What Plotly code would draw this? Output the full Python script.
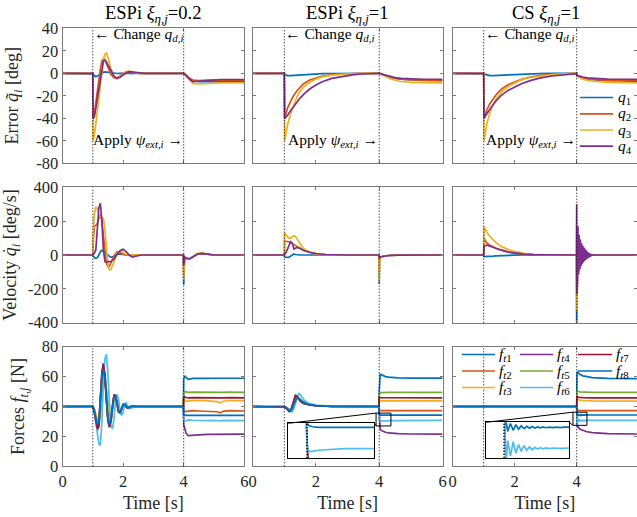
import plotly.graph_objects as go

W, H = 637, 517
FONT = "Liberation Serif"
Q_COLORS = ['#0072BD', '#D95319', '#EDB120', '#7E2F8E']
F_COLORS = ['#0072BD', '#D95319', '#EDB120', '#7E2F8E', '#77AC30', '#4DBEEE', '#A2142F', '#0072BD']

col_titles = ['ESPi <i>ξ</i><sub><i>η,j</i></sub>=0.2', 'ESPi <i>ξ</i><sub><i>η,j</i></sub>=1', 'CS <i>ξ</i><sub><i>η,j</i></sub>=1']
row_titles = ['Error <i>q̃</i><sub><i>i</i></sub> [deg]', 'Velocity <i>q̇</i><sub><i>i</i></sub> [deg/s]', 'Forces <i>f</i><sub><i>t,j</i></sub> [N]']
q_names = ['<i>q</i><sub>1</sub>', '<i>q</i><sub>2</sub>', '<i>q</i><sub>3</sub>', '<i>q</i><sub>4</sub>']
f_names = ['<i>f</i><sub><i>t</i>%d</sub>' % i for i in range(1, 9)]

x_ticks = [0, 2, 4, 6]
x_ticktext = ['0', '2', '4', '6']
err_ticks = [-80, -60, -40, -20, 0, 20, 40]
err_ticktext = ['-80', '-60', '-40', '-20', '0', '20', '40']
vel_ticks = [-400, -200, 0, 200, 400]
vel_ticktext = ['-400', '-200', '0', '200', '400']
force_ticks = [0, 20, 40, 60, 80]
force_ticktext = ['0', '20', '40', '60', '80']

# ---------------- Row 1: errors ----------------
err1_t = [0, 1.0, 1.01, 1.05, 1.1, 1.15, 1.2, 1.25, 1.3, 1.35, 1.4, 1.45, 1.5, 1.6, 1.7, 1.8, 1.9, 2.0, 2.1, 2.2, 2.35, 2.5, 2.7, 3.0, 4.0, 4.1, 4.2, 4.3, 4.5, 4.8, 5.2, 6.0]
err1_q1 = [0, 0, -0.5, -2, -3, -2.5, -1.5, -0.5, 0.5, 1, 1.2, 1, 0.8, 0.3, 0, -0.2, 0, 0, 0, 0, 0, 0, 0, 0, 0, -2.5, -5, -6.5, -7.5, -7.5, -7.2, -7.2]
err1_q2 = [0, 0, -40, -36, -26, -15, -5, 4, 11, 13, 12, 9, 5, -1, -4, -4, -2.5, 0, 1, 1, 0.5, 0, 0, 0, 0, -2, -4.5, -6, -6.5, -6, -5.8, -6]
err1_q3 = [0, 0, -60, -55, -45, -33, -20, -8, 4, 12, 17, 18, 14, 4, -3, -5, -3, -0.5, 1.5, 2, 1, 0, 0, 0, 0, -3, -6.5, -9, -9.5, -9, -8.5, -8.5]
err1_q4 = [0, 0, -40, -39, -31, -22, -12, -3, 6, 11, 11.5, 10, 7.5, 2, -2.5, -4.5, -3.5, -1.5, 0.5, 1.5, 1, 0.3, 0, 0, 0, -2.5, -5.5, -7.5, -7, -6, -5.5, -5.5]

err2_t = [0, 1.0, 1.01, 1.05, 1.1, 1.2, 1.3, 1.4, 1.5, 1.6, 1.8, 2.0, 2.2, 2.5, 2.8, 3.2, 3.6, 4.0, 4.1, 4.2, 4.35, 4.5, 4.7, 5.0, 5.4, 6.0]
err2_q1 = [0, 0, -1, -1.5, -2, -2, -1.8, -1.5, -1.2, -1, -0.7, -0.5, -0.3, -0.2, -0.1, 0, 0, 0, -1, -2, -3.5, -4.5, -5.3, -6, -6.4, -6.5]
err2_q2 = [0, 0, -40, -35, -31, -25, -19.5, -15.5, -12, -9.5, -6, -4, -2.5, -1.3, -0.6, -0.2, 0, 0, -1, -2, -3.3, -4.3, -5.2, -5.8, -6.2, -6.3]
err2_q3 = [0, 0, -60, -53, -46, -36, -28, -21, -16, -12.5, -8, -5, -3.2, -1.7, -0.9, -0.3, 0, 0, -1.5, -3, -4.8, -6.2, -7.3, -8, -8.4, -8.5]
err2_q4 = [0, 0, -40, -39, -37.5, -33, -29, -25.5, -22, -19, -14, -10.5, -7.5, -4.5, -2.8, -1.2, -0.4, 0, -1, -1.8, -3, -3.8, -4.5, -5, -5.3, -5.4]

err3_t = [0, 1.0, 1.01, 1.05, 1.1, 1.2, 1.3, 1.4, 1.5, 1.6, 1.8, 2.0, 2.2, 2.5, 2.8, 3.2, 3.6, 4.0, 4.02, 4.1, 4.2, 4.35, 4.5, 4.7, 5.0, 5.4, 6.0]
err3_q1 = [0, 0, -0.5, -1, -1.5, -2, -2, -2, -1.8, -1.7, -1.4, -1.1, -0.8, -0.5, -0.3, -0.1, 0, 0, -2, -3, -4, -5, -5.5, -6, -6.5, -6.8, -7]
err3_q2 = [0, 0, -40, -36, -32.5, -27, -22.5, -19, -16, -13.5, -10, -7.5, -5.5, -3.3, -2, -1, -0.4, 0, -2.5, -3.5, -4.2, -5, -5.4, -5.8, -6, -6.1, -6.2]
err3_q3 = [0, 0, -60, -52, -45, -35, -28, -23, -19, -16, -11.5, -8.5, -6, -3.7, -2.3, -1.1, -0.4, 0, -3, -4.2, -5.2, -6.3, -7, -7.5, -8, -8.3, -8.5]
err3_q4 = [0, 0, -40, -38, -36, -32, -28, -24.5, -21.5, -19, -15, -12, -9.5, -6.5, -4.3, -2.4, -1.2, -0.3, -2, -2.8, -3.4, -4, -4.4, -4.8, -5.1, -5.3, -5.4]

# ---------------- Row 2: velocities ----------------
vel1_t = [0, 1.0, 1.02, 1.05, 1.1, 1.15, 1.2, 1.25, 1.3, 1.35, 1.4, 1.45, 1.5, 1.55, 1.6, 1.7, 1.8, 1.9, 2.0, 2.1, 2.2, 2.3, 2.45, 2.6, 3.0, 3.99, 4.0, 4.01, 4.03, 4.1, 4.2, 4.3, 4.45, 4.6, 4.8, 5.0, 6.0]
vel1_q1 = [0, 0, -8, -15, -19, -15, 0, 20, 28, 22, 12, 5, 0, -8, -14, -8, 3, 6, 2, 0, 0, 0, 0, 0, 0, 0, -175, -60, -15, -20, -22, -10, 5, 8, 2, 0, 0]
vel1_q2 = [0, 0, 100, 170, 175, 185, 220, 240, 200, 120, 20, -50, -70, -65, -45, -5, 18, 15, 5, 0, 0, 0, 0, 0, 0, 0, -110, -40, -15, -22, -24, -12, 6, 10, 3, 0, 0]
vel1_q3 = [0, 0, 150, 240, 285, 270, 240, 225, 220, 215, 150, 20, -60, -88, -85, -40, 10, 25, 15, 3, 0, 0, 0, 0, 0, 0, -150, -50, -15, -24, -26, -12, 8, 12, 3, 0, 0]
vel1_q4 = [0, 0, 5, 10, 30, 150, 280, 305, 200, 30, -38, -40, -40, -40, -38, -25, 5, 25, 34, 20, 0, -13, -8, 0, 0, 0, -60, -25, -12, -20, -22, -12, 6, 10, 3, 0, 0]

vel2_t = [0, 1.0, 1.01, 1.05, 1.1, 1.15, 1.2, 1.25, 1.3, 1.35, 1.4, 1.5, 1.6, 1.8, 2.0, 2.3, 2.6, 3.0, 3.99, 4.0, 4.01, 4.05, 4.15, 4.3, 4.6, 5.0, 6.0]
vel2_q1 = [0, 0, -12, -14, -14, -13, -5, 3, 6, 3, 1, 0, 0, 0, 0, 0, 0, 0, 0, -170, -30, -10, -6, -3, -1, 0, 0]
vel2_q2 = [0, 0, 83, 82, 80, 77, 73, 68, 62, 55, 49, 38, 28, 15, 7, 2, 0.5, 0, 0, -100, -25, -12, -7, -3, -1, 0, 0]
vel2_q3 = [0, 0, 132, 120, 108, 99, 100, 108, 113, 110, 95, 60, 38, 18, 8, 2.5, 0.5, 0, 0, -155, -30, -12, -8, -3, -1, 0, 0]
vel2_q4 = [0, 0, 5, 15, 35, 60, 79, 70, 35, 40, 45, 38, 28, 16, 9, 3, 1, 0, 0, -20, -15, -10, -7, -3, -1, 0, 0]

vel3_t = [0, 1.0, 1.01, 1.05, 1.1, 1.2, 1.3, 1.4, 1.5, 1.6, 1.8, 2.0, 2.3, 2.6, 3.0, 3.99, 4.0, 4.01, 4.05, 4.15, 4.3, 4.6, 5.0, 6.0]
vel3_q1 = [0, 0, -10, -10, -10, -9, -7, -5.5, -4, -3, -1.5, -0.8, 0, 0, 0, 0, -430, -40, -10, -5, -2, 0, 0, 0]
vel3_q2 = [0, 0, 100, 85, 72, 58, 48, 40, 33, 27, 17, 11, 5, 2, 0.5, 0, -200, -30, -10, -5, -2, 0, 0, 0]
vel3_q3 = [0, 0, 167, 150, 135, 110, 90, 72, 59, 48, 32, 21, 10, 4, 1, 0, -330, -40, -10, -5, -2, 0, 0, 0]
vel3_q4_t = [0, 1.0, 1.01, 1.05, 1.1, 1.2, 1.3, 1.4, 1.5, 1.6, 1.8, 2.0, 2.3, 2.6, 3.0, 3.99,
             4.00, 4.01, 4.02, 4.03, 4.04, 4.05, 4.06, 4.07, 4.08, 4.09, 4.10, 4.11, 4.12, 4.13, 4.14, 4.15,
             4.16, 4.17, 4.18, 4.19, 4.20, 4.21, 4.22, 4.23, 4.24, 4.25, 4.26, 4.27, 4.28, 4.29, 4.30, 4.31,
             4.32, 4.33, 4.34, 4.35, 4.36, 4.37, 4.38, 4.39, 4.40, 4.41, 4.42, 4.43, 4.44, 4.45, 4.46, 4.47,
             4.48, 4.49, 4.50, 4.6, 5.0, 6.0]
vel3_q4 = [0, 0, 53, 55, 58, 52, 45, 38, 32, 27, 17, 11, 5, 2, 0.5, 0,
           300, -230, 210, -150, 170, -115, 140, -98, 120, -84, 105, -74, 92, -64, 80, -56,
           70, -50, 63, -44, 55, -40, 50, -35, 44, -31, 39, -27, 34, -24, 30, -21,
           26, -18, 22, -15, 18, -13, 15, -11, 12, -9, 10, -7, 8, -5, 6, -4,
           4, -3, 2, 0, 0, 0]

# ---------------- Row 3: forces ----------------
frc1_t = [0, 1.0, 1.05, 1.1, 1.15, 1.2, 1.25, 1.3, 1.35, 1.4, 1.45, 1.5, 1.55, 1.6, 1.65, 1.7, 1.75, 1.8, 1.85, 1.9, 1.95, 2.0, 2.05, 2.1, 2.15, 2.2, 2.3, 2.4, 2.5, 2.7, 3.0, 3.99, 4.0, 4.03, 4.08, 4.15, 4.3, 4.5, 4.8, 5.0, 5.1, 5.2, 5.3, 5.5, 6.0]
frc1_f1 = [40, 40, 38, 33, 27, 26, 36, 54, 64, 62, 50, 35, 28, 30, 38, 46, 47.5, 43, 38, 35.5, 37.5, 40.5, 41.8, 40.5, 39.3, 39.4, 40.3, 40, 40, 40, 40, 40, 58, 60.5, 59.5, 58.2, 58.8, 59, 58.8, 58.9, 58.9, 58.8, 58.9, 58.9, 58.9]
frc1_f2 = [40, 40, 38, 34, 30, 30, 38, 52, 60, 58, 48, 36, 30, 32, 39, 45, 46, 42.5, 38, 36.5, 38, 40.5, 41.3, 40.5, 39.5, 39.6, 40.2, 40, 40, 40, 40, 40, 37, 36.5, 36.8, 37, 37.2, 37, 37, 37, 36.5, 35.8, 36.8, 37.2, 37]
frc1_f3 = [40, 40, 38.5, 35, 31, 30, 36, 50, 59, 59, 50, 38, 31, 31, 37, 44, 46, 43, 38.5, 36.5, 37.5, 40, 41.2, 40.8, 39.7, 39.5, 40.1, 40, 40, 40, 40, 40, 44.5, 44, 43.5, 43.8, 44, 44, 43.8, 43.8, 43.3, 42.5, 43.5, 44, 43.8]
frc1_f4 = [40, 40, 36, 29, 24, 28, 45, 63, 69, 60, 43, 30, 26, 31, 41, 48, 47, 41, 36, 36, 39, 41.5, 41, 39.5, 39, 39.5, 40.3, 40, 40, 40, 40, 40, 28, 25, 22, 20.5, 20.5, 21, 21.3, 21.4, 21.3, 21.2, 21.4, 21.5, 21.5]
frc1_f5 = [40, 40, 38, 33, 28, 29, 40, 56, 63, 60, 47, 35, 29, 31, 39, 46, 47, 42, 37.5, 36, 38, 40.8, 41.5, 40.3, 39.4, 39.5, 40.2, 40, 40, 40, 40, 40, 49, 50, 49.8, 49.5, 49.6, 49.5, 49.5, 49.6, 49.5, 49.4, 49.5, 49.6, 49.5]
frc1_f6 = [40, 40, 37, 30, 21, 15, 14, 30, 55, 72, 75, 62, 42, 27, 25, 32, 43, 48, 45, 37, 34, 36, 41, 42.5, 40.5, 38.5, 39, 40.5, 40, 40, 40, 40, 31, 30, 30.5, 31, 30.8, 30.6, 30.6, 30.7, 30.5, 30.3, 30.7, 30.8, 30.6]
frc1_f7 = [40, 40, 36.5, 30, 25, 28, 44, 62, 68, 61, 45, 31, 26.5, 30.5, 40, 47.5, 47.5, 41.5, 36.5, 36, 38.5, 41.3, 41.2, 39.7, 39, 39.4, 40.3, 40, 40, 40, 40, 40, 46, 46.5, 46, 45.8, 45.9, 45.8, 45.8, 45.9, 45.8, 45.7, 45.8, 45.9, 45.8]
frc1_f8 = [40, 40, 37, 32, 28, 30, 44, 60, 65, 58, 44, 31, 28, 32, 40, 47, 46.5, 42, 37, 36, 38.5, 41, 41.5, 40, 39.3, 39.6, 40.2, 40, 40, 40, 40, 40, 34.5, 34.2, 34, 34, 34, 34, 34, 34, 34, 34, 34, 34, 34]

frc2_t = [0, 1.0, 1.05, 1.1, 1.15, 1.2, 1.25, 1.3, 1.35, 1.4, 1.45, 1.5, 1.6, 1.7, 1.8, 2.0, 2.2, 2.5, 3.0, 3.99, 4.0, 4.01, 4.03, 4.06, 4.1, 4.15, 4.2, 4.3, 4.4, 4.6, 5.0, 5.5, 6.0]
frc2_f1 = [40, 40, 39.5, 38.5, 37.5, 37, 38, 41, 44.5, 46, 45.5, 44.5, 43, 42, 41.2, 40.6, 40.3, 40.1, 40, 40, 50, 60, 61.5, 61.3, 60.8, 60.3, 60, 59.6, 59.4, 59.2, 59, 59, 59]
frc2_f2 = [40, 40, 39.5, 38.5, 37.5, 37.5, 39, 42.5, 45.5, 46, 45, 44, 42.5, 41.5, 41, 40.5, 40.2, 40.1, 40, 40, 38, 37.5, 37.3, 37.2, 37.2, 37.3, 37.4, 37.6, 37.4, 37.2, 37.2, 37.3, 37.2]
frc2_f3 = [40, 40, 39.5, 39, 38, 37.5, 38.5, 42, 45.5, 47, 46, 44.5, 43, 42, 41.3, 40.6, 40.3, 40.1, 40, 40, 44.5, 44, 43.8, 43.7, 43.7, 43.8, 43.8, 43.9, 43.8, 43.8, 43.8, 43.8, 43.8]
frc2_f4 = [40, 40, 39, 37.5, 36.5, 37, 41, 45, 47.5, 47, 45, 43.5, 42, 41.5, 41, 40.5, 40.2, 40, 40, 40, 32, 27, 25, 24, 23.5, 23, 22.8, 22.3, 22, 21.8, 21.6, 21.5, 21.5]
frc2_f5 = [40, 40, 39.5, 38.5, 37.5, 37.5, 39.5, 43, 46, 46.5, 45.5, 44, 42.5, 41.6, 41, 40.5, 40.2, 40.1, 40, 40, 48, 49, 49.2, 49.3, 49.4, 49.4, 49.5, 49.5, 49.5, 49.5, 49.5, 49.5, 49.5]
frc2_f6 = [40, 40, 39.5, 38.5, 37.5, 36.5, 36.5, 38.5, 42, 46, 48.5, 48, 45, 43, 42, 41, 40.5, 40.2, 40, 40, 31, 30, 30, 30.2, 30.3, 30.4, 30.5, 30.5, 30.6, 30.6, 30.7, 30.7, 30.7]
frc2_f7 = [40, 40, 39, 38, 37, 37.2, 40.5, 44.5, 47, 46.8, 45, 43.7, 42.2, 41.4, 41, 40.5, 40.2, 40, 40, 40, 46, 46.2, 46, 45.9, 45.9, 45.9, 45.8, 45.8, 45.8, 45.8, 45.8, 45.8, 45.8]
frc2_f8 = [40, 40, 39.5, 38.5, 37.5, 37.2, 38.5, 41.5, 44.5, 46, 45.5, 44.5, 43, 42, 41.2, 40.6, 40.3, 40.1, 40, 40, 35, 34.5, 34.3, 34.2, 34.2, 34.2, 34.2, 34.2, 34.2, 34.2, 34.2, 34.2, 34.2]

frc3_t = [0, 1.0, 3.99, 4.0, 4.01, 4.03, 4.05, 4.1, 4.2, 4.3, 4.5, 5.0, 6.0]
frc3_f1 = [40, 40, 40, 40, 62, 63.5, 62.5, 61.5, 60.5, 60, 59.3, 58.8, 58.6]
frc3_f2 = [40, 40, 40, 40, 38.5, 37.8, 37.5, 37.3, 37.2, 37.2, 37.2, 37.2, 37.2]
frc3_f3 = [40, 40, 40, 40, 45, 44.8, 44.5, 44.2, 44, 43.8, 43.7, 43.6, 43.6]
frc3_f4 = [40, 40, 40, 40, 28, 26.5, 26, 25, 24, 23.3, 22.5, 21.8, 21.6]
frc3_f5 = [40, 40, 40, 40, 50.5, 50.2, 50, 49.8, 49.6, 49.5, 49.5, 49.5, 49.5]
frc3_f7 = [40, 40, 40, 40, 46.5, 46.3, 46.2, 46, 45.9, 45.8, 45.8, 45.8, 45.8]
frc3_rip_t = [0, 1.0, 3.99, 4.0, 4.01, 4.02, 4.035, 4.05, 4.065, 4.08, 4.095, 4.11, 4.125, 4.14, 4.155, 4.17, 4.185, 4.2, 4.215, 4.23, 4.25, 4.27, 4.29, 4.31, 4.33, 4.35, 4.4, 4.5, 5.0, 6.0]
frc3_f6 = [40, 40, 40, 40, 27.5, 32, 29.3, 31.8, 29.8, 31.3, 30.1, 31.1, 30.3, 30.9, 30.4, 30.8, 30.5, 30.75, 30.55, 30.7, 30.6, 30.7, 30.62, 30.7, 30.65, 30.68, 30.7, 30.7, 30.7, 30.7]
frc3_f8 = [40, 40, 40, 40, 35.5, 33.6, 35, 33.8, 34.8, 34, 34.6, 34.1, 34.5, 34.15, 34.45, 34.2, 34.4, 34.22, 34.38, 34.25, 34.37, 34.26, 34.35, 34.27, 34.34, 34.3, 34.3, 34.3, 34.3, 34.3]

event_times = [1.0, 4.0]

# ---------------- layout geometry (pixels) ----------------
COL_PX = [(62.5, 244.3), (252.7, 442.5), (452.7, 637.0)]
ROW_PX = [(28.3, 163.3), (187.3, 322.7), (346.7, 466.3)]
X_RANGES = [[0, 6], [0, 6], [0, 5.945]]
INSET_PX = {10: ((288.3, 374.3), (423.3, 458.3)), 11: ((486.0, 569.3), (422.3, 457.7))}
INSET_XR = {10: [3.9, 4.36], 11: [3.9, 4.36]}
INSET_YR = {10: [28.8, 34.9], 11: [29.0, 35.2]}
ZOOM_BOX = {10: ([3.9, 4.37], [27.0, 35.6]), 11: ([3.88, 4.33], [27.4, 36.2])}
# legend key placement (pixels): (line x0, line x1, y) for each entry
Q_LEG = [(580, 613, 97.5), (580, 613, 113.8), (580, 613, 130.0), (580, 613, 146.2)]
F_LEG = [(462, 495, 354.5), (462, 495, 371), (462, 495, 387.5),
         (520, 553, 354.5), (520, 553, 371), (520, 553, 387.5),
         (578, 612, 354.5), (578, 612, 371)]


def fx(p):
    return p / W


def fy(p):
    return 1 - p / H


def ax_id(k, letter):
    return letter if k == 1 else f"{letter}{k}"


AXC = '#7a7a7a'
TXC = '#262626'
LW = 1.7
DOT = '1px,2px'

fig = go.Figure()

err_data = [(err1_t, [err1_q1, err1_q2, err1_q3, err1_q4]),
            (err2_t, [err2_q1, err2_q2, err2_q3, err2_q4]),
            (err3_t, [err3_q1, err3_q2, err3_q3, err3_q4])]
vel_data = [([vel1_t] * 4, [vel1_q1, vel1_q2, vel1_q3, vel1_q4]),
            ([vel2_t] * 4, [vel2_q1, vel2_q2, vel2_q3, vel2_q4]),
            ([vel3_t, vel3_t, vel3_t, vel3_q4_t], [vel3_q1, vel3_q2, vel3_q3, vel3_q4])]
frc_data = [([frc1_t] * 8, [frc1_f1, frc1_f2, frc1_f3, frc1_f4, frc1_f5, frc1_f6, frc1_f7, frc1_f8]),
            ([frc2_t] * 8, [frc2_f1, frc2_f2, frc2_f3, frc2_f4, frc2_f5, frc2_f6, frc2_f7, frc2_f8]),
            ([frc3_t, frc3_t, frc3_t, frc3_t, frc3_t, frc3_rip_t, frc3_t, frc3_rip_t],
             [frc3_f1, frc3_f2, frc3_f3, frc3_f4, frc3_f5, frc3_f6, frc3_f7, frc3_f8])]

for c in range(3):
    k = c + 1
    t, series = err_data[c]
    for i, y in enumerate(series):
        fig.add_trace(go.Scatter(x=t, y=y, mode='lines', line=dict(color=Q_COLORS[i], width=LW),
                                 name=q_names[i], showlegend=False,
                                 xaxis=ax_id(k, 'x'), yaxis=ax_id(k, 'y')))
for c in range(3):
    k = 3 + c + 1
    ts, series = vel_data[c]
    for i, y in enumerate(series):
        fig.add_trace(go.Scatter(x=ts[i], y=y, mode='lines', line=dict(color=Q_COLORS[i], width=LW),
                                 name=q_names[i], showlegend=False,
                                 xaxis=ax_id(k, 'x'), yaxis=ax_id(k, 'y')))
for c in range(3):
    k = 6 + c + 1
    ts, series = frc_data[c]
    for i, y in enumerate(series):
        fig.add_trace(go.Scatter(x=ts[i], y=y, mode='lines', line=dict(color=F_COLORS[i], width=LW),
                                 name=f_names[i], showlegend=False,
                                 xaxis=ax_id(k, 'x'), yaxis=ax_id(k, 'y')))

# insets (zoomed views of force panels 2 and 3)
for kin, c in [(10, 1), (11, 2)]:
    ts, series = frc_data[c]
    for i, y in enumerate(series):
        fig.add_trace(go.Scatter(x=ts[i], y=y, mode='lines', line=dict(color=F_COLORS[i], width=LW),
                                 name=f_names[i], showlegend=False,
                                 xaxis=f'x{kin}', yaxis=f'y{kin}'))

layout = dict(width=W, height=H, margin=dict(l=0, r=0, t=0, b=0),
              paper_bgcolor='white', plot_bgcolor='white', showlegend=False,
              font=dict(family=FONT, size=16, color=TXC))

y_specs = [(err_ticks, err_ticktext, [-80, 40]),
           (vel_ticks, vel_ticktext, [-400, 400]),
           (force_ticks, force_ticktext, [0, 80])]

for r in range(3):
    for c in range(3):
        k = r * 3 + c + 1
        xname = 'xaxis' if k == 1 else f'xaxis{k}'
        yname = 'yaxis' if k == 1 else f'yaxis{k}'
        x0, x1 = COL_PX[c]
        top, bot = ROW_PX[r]
        xa = dict(domain=[fx(x0), fx(x1)], range=X_RANGES[c], anchor=ax_id(k, 'y'),
                  tickvals=x_ticks, ticktext=x_ticktext, showticklabels=(r == 2),
                  ticks='inside', ticklen=3, tickcolor=AXC, mirror='ticks',
                  showline=True, linecolor=AXC, linewidth=1, showgrid=False,
                  zeroline=False, automargin=False,
                  tickfont=dict(family=FONT, size=16.5, color=TXC))
        if r == 2:
            xa['title'] = dict(text='Time [s]', standoff=6, font=dict(family=FONT, size=18, color=TXC))
        layout[xname] = xa
        tv, tt, yr = y_specs[r]
        ya = dict(domain=[fy(bot), fy(top)], range=yr, anchor=ax_id(k, 'x'),
                  tickvals=tv, ticktext=tt, showticklabels=(c == 0),
                  ticks='inside', ticklen=3, tickcolor=AXC, mirror='ticks',
                  showline=True, linecolor=AXC, linewidth=1, showgrid=False,
                  zeroline=False, automargin=False,
                  tickfont=dict(family=FONT, size=16.5, color=TXC))
        if c == 0:
            ya['title'] = dict(text=row_titles[r], standoff=12, font=dict(family=FONT, size=18, color=TXC))
        layout[yname] = ya

for kin in (10, 11):
    (ix0, ix1), (itop, ibot) = INSET_PX[kin]
    layout[f'xaxis{kin}'] = dict(domain=[fx(ix0), fx(ix1)], range=INSET_XR[kin], anchor=f'y{kin}',
                                 showticklabels=False, ticks='', mirror=True, showline=True,
                                 linecolor='#000000', linewidth=1, showgrid=False, zeroline=False,
                                 automargin=False)
    layout[f'yaxis{kin}'] = dict(domain=[fy(ibot), fy(itop)], range=INSET_YR[kin], anchor=f'x{kin}',
                                 showticklabels=False, ticks='', mirror=True, showline=True,
                                 linecolor='#000000', linewidth=1, showgrid=False, zeroline=False,
                                 automargin=False)

shapes = []
for k in range(1, 10):
    for te in event_times:
        shapes.append(dict(type='line', xref=ax_id(k, 'x'), yref=f"{ax_id(k, 'y')} domain",
                           x0=te, x1=te, y0=0, y1=1, layer='above',
                           line=dict(color='black', width=1, dash=DOT)))
for kin in (10, 11):
    shapes.append(dict(type='line', xref=f'x{kin}', yref=f'y{kin} domain', x0=4.0, x1=4.0, y0=0, y1=1,
                       layer='above', line=dict(color='black', width=2, dash=DOT)))

# zoom boxes on main force panels and connector lines to insets
for kin, k in [(10, 8), (11, 9)]:
    (bx0, bx1), (by0, by1) = ZOOM_BOX[kin]
    shapes.append(dict(type='rect', xref=ax_id(k, 'x'), yref=ax_id(k, 'y'), x0=bx0, x1=bx1, y0=by0, y1=by1,
                       layer='above', line=dict(color='black', width=1)))
    (ix0, ix1), (itop, ibot) = INSET_PX[kin]
    xa = layout[f'xaxis{k}']
    dx0, dx1 = xa['domain']
    rx0, rx1 = xa['range']
    ya = layout[f'yaxis{k}']
    dy0, dy1 = ya['domain']
    ry0, ry1 = ya['range']
    bx_paper = dx0 + (bx0 - rx0) / (rx1 - rx0) * (dx1 - dx0)
    btop_paper = dy0 + (by1 - ry0) / (ry1 - ry0) * (dy1 - dy0)
    bbot_paper = dy0 + (by0 - ry0) / (ry1 - ry0) * (dy1 - dy0)
    shapes.append(dict(type='line', xref='paper', yref='paper', x0=fx(ix0), y0=fy(itop),
                       x1=bx_paper, y1=btop_paper, layer='above', line=dict(color='black', width=1)))
    shapes.append(dict(type='line', xref='paper', yref='paper', x0=fx(ix1), y0=fy(itop),
                       x1=bx_paper, y1=bbot_paper, layer='above', line=dict(color='black', width=1)))

annotations = []
# legend keys (q legend in the top-right panel, force legend in the bottom-right panel)
for (lx0, lx1, ly), col, name in zip(Q_LEG, Q_COLORS, q_names):
    shapes.append(dict(type='line', xref='paper', yref='paper', x0=fx(lx0), x1=fx(lx1), y0=fy(ly), y1=fy(ly),
                       layer='above', line=dict(color=col, width=LW)))
    annotations.append(dict(x=fx(lx1 + 3), y=fy(ly), xref='paper', yref='paper', text=name, showarrow=False,
                            xanchor='left', yanchor='middle', font=dict(family=FONT, size=15.5, color='#000000')))
for (lx0, lx1, ly), col, name in zip(F_LEG, F_COLORS, f_names):
    shapes.append(dict(type='line', xref='paper', yref='paper', x0=fx(lx0), x1=fx(lx1), y0=fy(ly), y1=fy(ly),
                       layer='above', line=dict(color=col, width=LW)))
    annotations.append(dict(x=fx(lx1 + 2), y=fy(ly), xref='paper', yref='paper', text=name, showarrow=False,
                            xanchor='left', yanchor='middle', font=dict(family=FONT, size=15.5, color='#000000')))
layout['shapes'] = shapes

for c in range(3):
    x0, x1 = COL_PX[c]
    full_right = x0 + 6 * (x1 - x0) / X_RANGES[c][1]
    cx = (x0 + full_right) / 2
    annotations.append(dict(x=fx(cx), y=fy(14), xref='paper', yref='paper', text=col_titles[c],
                            showarrow=False, xanchor='center', yanchor='middle',
                            font=dict(family=FONT, size=18.5, color='#000000')))
    k = c + 1
    annotations.append(dict(x=1.0, y=0.955, xref=ax_id(k, 'x'), yref=f"{ax_id(k, 'y')} domain",
                            text='← Change <i>q</i><sub><i>d,i</i></sub>', showarrow=False,
                            xanchor='left', yanchor='middle', xshift=-1,
                            font=dict(family=FONT, size=15.5, color='#000000')))
    annotations.append(dict(x=4.0, y=0.17, xref=ax_id(k, 'x'), yref=f"{ax_id(k, 'y')} domain",
                            text='Apply <i>ψ</i><sub><i>ext,i</i></sub> →', showarrow=False,
                            xanchor='right', yanchor='middle', xshift=1,
                            font=dict(family=FONT, size=15.5, color='#000000')))
layout['annotations'] = annotations

fig.update_layout(**layout)
fig.write_html("out.html", config={'displayModeBar': False},
               post_script="document.body.style.margin='0px';document.body.style.overflow='hidden';")
